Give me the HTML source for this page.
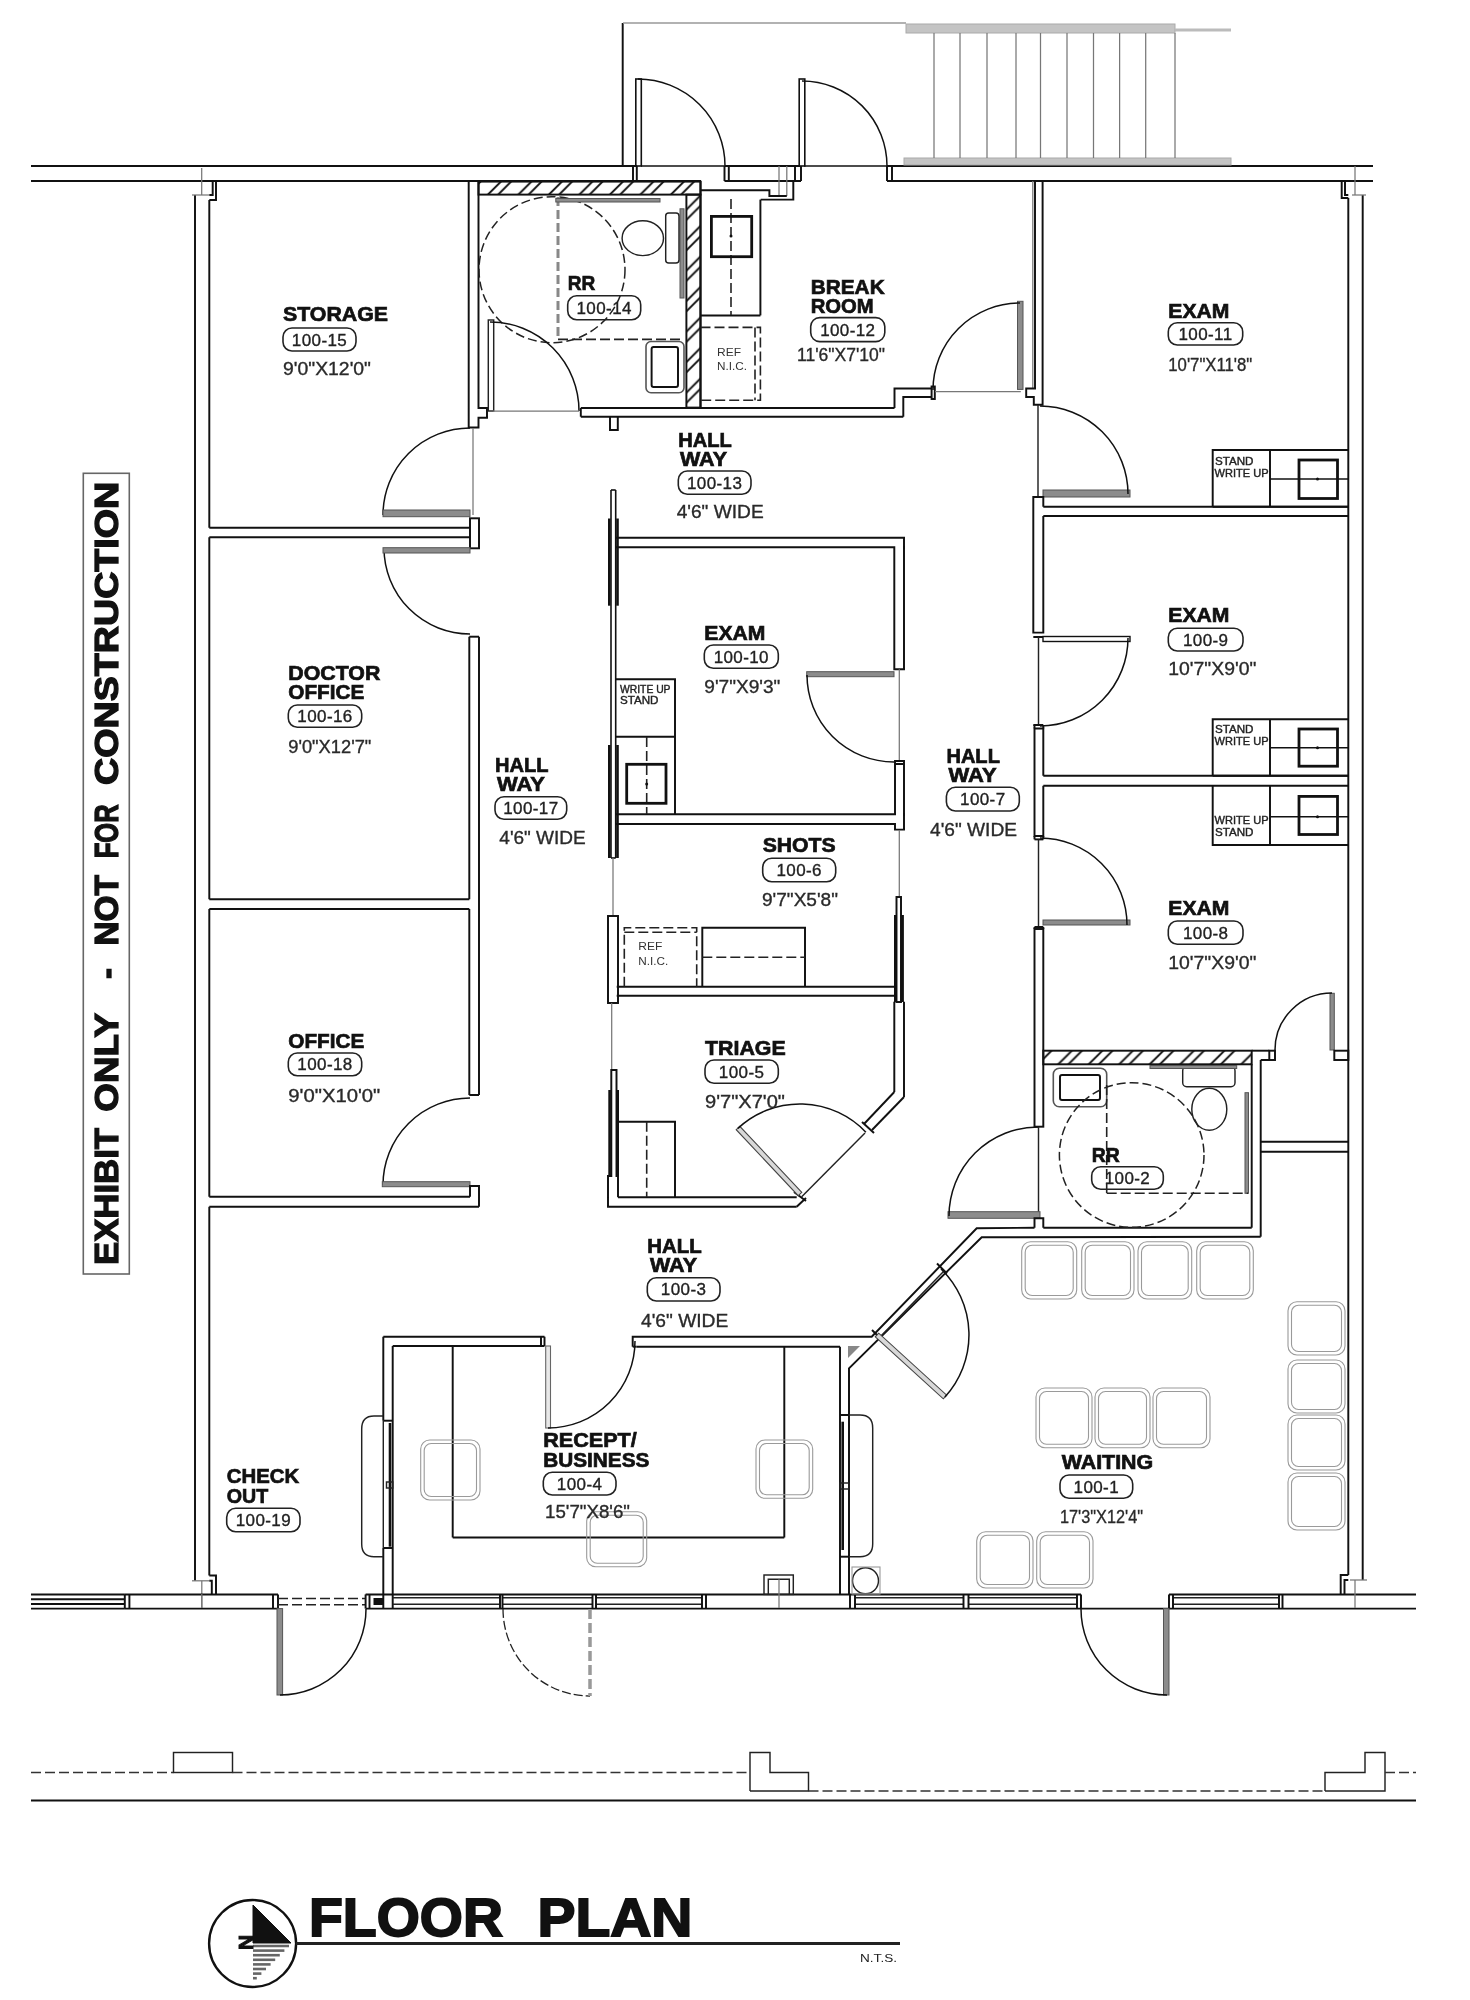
<!DOCTYPE html>
<html><head><meta charset="utf-8"><title>Floor Plan</title>
<style>
html,body{margin:0;padding:0;background:#fff}
svg{display:block;will-change:transform}
path,rect,circle,ellipse{fill:none}
.k{stroke:#111;stroke-width:1.95}
.t{stroke:#222;stroke-width:1.45}
.k2{stroke:#111;stroke-width:1.6}
.a{stroke:#111;stroke-width:1.5}
.g{stroke:#777;stroke-width:1.25}
.lg{stroke:#999;stroke-width:1.6}
.gb{stroke:#bbb;stroke-width:3}
.gf{fill:#c4c4c4;stroke:#aaa;stroke-width:1}
.gf2{fill:#888;stroke:none}
.lf{fill:#8c8c8c;stroke:#555;stroke-width:1}
.lf2{fill:#d8d8d8;stroke:#444;stroke-width:1.1}
.sk{stroke:#555;stroke-width:1.6}
.lf3{fill:#e8e8e8;stroke:#666;stroke-width:1.1}
.df{fill:#fff;stroke:#111;stroke-width:1.4}
.bf{fill:#111;stroke:#111;stroke-width:1}
.bk3{stroke:#111;stroke-width:2.6}
.th{stroke:#111;stroke-width:2.8}
.dk{stroke:#222;stroke-width:1.6;stroke-dasharray:10 4}
.ds{stroke:#333;stroke-width:1.5;stroke-dasharray:10 4}
.da{stroke:#222;stroke-width:1.3;stroke-dasharray:9 3}
.dg{stroke:#999;stroke-width:3.5;stroke-dasharray:10 4}
.dg2{stroke:#888;stroke-width:3;stroke-dasharray:9 4}
.dc{stroke:#222;stroke-width:1.5;stroke-dasharray:9 4}
.ch{stroke:#9a9a9a;stroke-width:1.1}
.pl{stroke:#222;stroke-width:1.6}
.ex{stroke:#666;stroke-width:1.6}
.hg{stroke:#666;stroke-width:2.6}
.ul{stroke:#222;stroke-width:3.2}
text{font-family:"Liberation Sans",sans-serif;fill:#111}
.lb{font-weight:bold;font-size:20.5px;stroke:#111;stroke-width:.7px}
.num{font-size:17px;fill:#222;letter-spacing:.4px;stroke:#222;stroke-width:.35px}
.dm{font-size:18.5px;fill:#2a2a2a;stroke:#2a2a2a;stroke-width:.35px}
.sm{font-size:11px;fill:#222;stroke:#222;stroke-width:.4px}
.sm2{font-size:11px;fill:#333}
.exh{font-weight:bold;font-size:33.5px;fill:#111;stroke:#111;stroke-width:1.3px}
.ttl{font-weight:bold;font-size:53px;stroke:#111;stroke-width:1.8px}
.nn{font-weight:bold;font-size:21px;stroke:#111;stroke-width:1px}
.nts{font-size:11px;fill:#222}
</style></head>
<body>
<svg width="1470" height="2000" viewBox="0 0 1470 2000">
<defs><pattern id="h" width="30.5" height="30.5" patternUnits="userSpaceOnUse"><path d="M-14.0 -5L-5 -14.0M16.5 -5L-5 16.5M47.0 -5L-5 47.0M77.5 -5L-5 77.5M-3.8 -5L-5 -3.8M26.7 -5L-5 26.7M57.2 -5L-5 57.2M87.7 -5L-5 87.7" style="stroke:#111;stroke-width:1.9"/></pattern><pattern id="h2" width="30.5" height="30.5" patternUnits="userSpaceOnUse"><path d="M-7.5 -5L-5 -7.5M23.0 -5L-5 23.0M53.5 -5L-5 53.5M84.0 -5L-5 84.0M2.7 -5L-5 2.7M33.2 -5L-5 33.2M63.7 -5L-5 63.7M94.2 -5L-5 94.2" style="stroke:#111;stroke-width:1.9"/></pattern></defs>
<rect x="0" y="0" width="1470" height="2000" style="fill:#fff"/>
<path class="k" d="M31.0 166.0L636.8 166.0"/>
<path class="k" d="M31.0 181.0L701.0 181.0"/>
<path class="k" d="M633.0 166.0L633.0 181.0"/>
<path class="k" d="M636.8 166.0L636.8 181.0"/>
<path class="k" d="M622.7 23.0L622.7 166.0"/>
<path class="lg" d="M623.0 23.0L906.0 23.0"/>
<rect class="k2" x="635.8" y="79.0" width="5.5" height="87.0"/>
<path class="k2" d="M641.0 166.0L724.5 166.0"/>
<path class="a" d="M638.0 79.0A87 87 0 0 1 725.0 166.0"/>
<path class="k" d="M724.5 166.0L800.0 166.0"/>
<path class="k" d="M724.5 166.0L724.5 181.0"/>
<path class="k" d="M728.8 166.0L728.8 181.0"/>
<path class="k" d="M724.5 181.0L801.0 181.0"/>
<rect class="k2" x="799.2" y="79.0" width="5.6" height="87.0"/>
<path class="k2" d="M804.0 166.0L887.0 166.0"/>
<path class="a" d="M802.0 81.0A85 85 0 0 1 887.0 166.0"/>
<path class="k" d="M801.0 166.0L801.0 181.0"/>
<path class="k" d="M795.0 166.0L795.0 181.0"/>
<path class="k" d="M887.0 166.0L1373.0 166.0"/>
<path class="k" d="M887.0 181.0L1373.0 181.0"/>
<path class="k" d="M887.0 166.0L887.0 181.0"/>
<path class="k" d="M892.0 166.0L892.0 181.0"/>
<path class="g" d="M779.0 166.0L779.0 196.0"/>
<path class="g" d="M786.8 166.0L786.8 196.0"/>
<path class="k" d="M793.3 181.0L793.3 199.6L760.7 199.6"/>
<path class="k" d="M701.0 190.3L769.4 190.3L769.4 196.0L786.8 196.0"/>
<rect class="gf" x="906.0" y="24.0" width="269.0" height="9.0"/>
<path class="gb" d="M1175.0 30.0L1231.0 30.0"/>
<rect class="gf" x="904.0" y="158.0" width="327.0" height="7.0"/>
<path class="g" d="M934.0 33.0L934.0 158.0"/>
<path class="g" d="M960.0 33.0L960.0 158.0"/>
<path class="g" d="M987.0 33.0L987.0 158.0"/>
<path class="g" d="M1016.0 33.0L1016.0 158.0"/>
<path class="g" d="M1040.5 33.0L1040.5 158.0"/>
<path class="g" d="M1067.0 33.0L1067.0 158.0"/>
<path class="g" d="M1093.5 33.0L1093.5 158.0"/>
<path class="g" d="M1119.6 33.0L1119.6 158.0"/>
<path class="g" d="M1145.7 33.0L1145.7 158.0"/>
<path class="g" d="M1175.0 33.0L1175.0 158.0"/>
<path class="k" d="M195.0 195.0L195.0 1580.8"/>
<path class="k" d="M209.3 200.0L209.3 527.7"/>
<path class="k" d="M209.3 537.3L209.3 899.3"/>
<path class="k" d="M209.3 909.0L209.3 1196.7"/>
<path class="k" d="M209.3 1206.7L209.3 1575.4"/>
<path class="k" d="M216.0 181.0L216.0 200.0L209.3 200.0"/>
<path class="k" d="M212.7 181.0L212.7 195.0L209.3 195.0"/>
<path class="g" d="M201.7 168.0L201.7 195.0"/>
<path class="g" d="M192.0 195.0L209.0 195.0"/>
<path class="k" d="M209.3 1575.4L216.0 1575.4L216.0 1594.4"/>
<path class="k" d="M209.3 1580.8L211.8 1580.8L211.8 1594.4"/>
<path class="g" d="M201.8 1580.8L201.8 1608.0"/>
<path class="g" d="M192.0 1580.8L209.0 1580.8"/>
<path class="k" d="M478.5 181.0L478.5 408.0L487.0 408.0L487.0 417.7L478.5 417.7L478.5 427.5L468.7 427.5L468.7 181.0"/>
<path class="a" d="M383.0 515.0A87 87 0 0 1 470.0 428.0"/>
<rect class="lf" x="383.0" y="510.0" width="87.0" height="6.7"/>
<path class="g" d="M473.0 428.0L473.0 515.0"/>
<path class="k" d="M209.3 527.7L470.0 527.7"/>
<path class="k" d="M209.3 537.3L470.0 537.3"/>
<rect class="k" x="470.0" y="518.3" width="9.0" height="30.0"/>
<path class="a" d="M384.0 548.0A86 86 0 0 0 470.0 634.0"/>
<rect class="lf" x="383.0" y="547.7" width="87.0" height="5.3"/>
<path class="k" d="M469.3 636.7L469.3 899.3"/>
<path class="k" d="M469.3 909.0L469.3 1095.0"/>
<path class="k" d="M479.0 636.7L479.0 1095.0"/>
<path class="k" d="M469.3 636.7L479.0 636.7"/>
<path class="k" d="M469.3 1095.0L479.0 1095.0"/>
<path class="k" d="M209.3 899.3L469.3 899.3"/>
<path class="k" d="M209.3 909.0L469.3 909.0"/>
<path class="a" d="M383.0 1185.0A87 87 0 0 1 470.0 1098.0"/>
<rect class="lf" x="382.3" y="1181.7" width="87.7" height="5.0"/>
<path class="k" d="M209.3 1196.7L470.0 1196.7"/>
<path class="k" d="M209.3 1206.7L479.0 1206.7"/>
<path class="k" d="M470.0 1196.7L470.0 1186.0L479.0 1186.0L479.0 1206.7"/>
<path class="k" d="M31.0 1594.4L124.8 1594.4"/>
<path class="k" d="M31.0 1599.3L124.8 1599.3"/>
<path class="k" d="M31.0 1604.0L124.8 1604.0"/>
<path class="k" d="M31.0 1608.6L124.8 1608.6"/>
<path class="k" d="M124.8 1594.4L124.8 1608.6"/>
<path class="k" d="M129.4 1594.4L129.4 1608.6"/>
<path class="k" d="M124.8 1594.4L278.0 1594.4"/>
<path class="k" d="M124.8 1608.6L278.0 1608.6"/>
<path class="k" d="M273.0 1594.4L273.0 1608.6"/>
<path class="k" d="M278.0 1594.4L278.0 1608.6"/>
<path class="dk" d="M278.0 1598.5L365.6 1598.5"/>
<path class="dk" d="M278.0 1604.8L365.6 1604.8"/>
<rect class="lf" x="277.0" y="1608.6" width="5.6" height="86.4"/>
<path class="a" d="M280.0 1695.0A86 86 0 0 0 366.0 1609.0"/>
<path class="k" d="M365.6 1594.4L365.6 1608.6"/>
<path class="k" d="M369.5 1594.4L369.5 1608.6"/>
<path class="k" d="M383.3 1594.4L383.3 1608.6"/>
<path class="k" d="M392.7 1594.4L392.7 1608.6"/>
<rect class="bf" x="374.0" y="1598.5" width="9.0" height="6.0"/>
<path class="k" d="M365.6 1594.4L1081.0 1594.4"/>
<path class="k" d="M365.6 1608.6L1416.0 1608.6"/>
<path class="k" d="M1169.0 1594.4L1416.0 1594.4"/>
<path class="t" d="M392.7 1597.7L500.0 1597.7"/>
<path class="t" d="M392.7 1604.3L500.0 1604.3"/>
<path class="t" d="M502.5 1597.7L592.5 1597.7"/>
<path class="t" d="M502.5 1604.3L592.5 1604.3"/>
<path class="t" d="M596.0 1597.7L702.0 1597.7"/>
<path class="t" d="M596.0 1604.3L702.0 1604.3"/>
<path class="t" d="M855.0 1597.7L963.5 1597.7"/>
<path class="t" d="M855.0 1604.3L963.5 1604.3"/>
<path class="t" d="M968.5 1597.7L1077.0 1597.7"/>
<path class="t" d="M968.5 1604.3L1077.0 1604.3"/>
<path class="t" d="M1173.0 1597.7L1279.0 1597.7"/>
<path class="t" d="M1173.0 1604.3L1279.0 1604.3"/>
<path class="k" d="M500.0 1594.4L500.0 1608.6"/>
<path class="k" d="M502.5 1594.4L502.5 1608.6"/>
<path class="k" d="M592.5 1594.4L592.5 1608.6"/>
<path class="k" d="M596.0 1594.4L596.0 1608.6"/>
<path class="k" d="M702.0 1594.4L702.0 1608.6"/>
<path class="k" d="M706.0 1594.4L706.0 1608.6"/>
<path class="k" d="M850.0 1594.4L850.0 1608.6"/>
<path class="k" d="M855.0 1594.4L855.0 1608.6"/>
<path class="k" d="M963.5 1594.4L963.5 1608.6"/>
<path class="k" d="M968.5 1594.4L968.5 1608.6"/>
<path class="k" d="M1077.0 1594.4L1077.0 1608.6"/>
<path class="k" d="M1081.0 1594.4L1081.0 1608.6"/>
<path class="k" d="M1169.0 1594.4L1169.0 1608.6"/>
<path class="k" d="M1173.0 1594.4L1173.0 1608.6"/>
<path class="k" d="M1279.0 1594.4L1279.0 1608.6"/>
<path class="k" d="M1282.5 1594.4L1282.5 1608.6"/>
<path class="da" d="M503.0 1609.0A87 87 0 0 0 590.0 1696.0"/>
<path class="dg" d="M590.0 1609.0L590.0 1696.0"/>
<rect class="lf" x="1163.5" y="1608.6" width="5.5" height="86.4"/>
<path class="a" d="M1081.0 1609.0A86 86 0 0 0 1167.0 1695.0"/>
<path class="g" d="M201.8 1594.0L201.8 1608.0"/>
<path class="k" d="M1348.3 198.0L1348.3 1575.0"/>
<path class="k" d="M1362.7 195.0L1362.7 1580.0"/>
<path class="k" d="M1341.7 181.0L1341.7 198.0L1348.3 198.0"/>
<path class="k" d="M1345.0 181.0L1345.0 195.0L1348.3 195.0"/>
<path class="g" d="M1355.0 166.0L1355.0 195.0"/>
<path class="g" d="M1352.0 195.0L1366.0 195.0"/>
<path class="k" d="M1348.3 1575.0L1340.7 1575.0L1340.7 1594.4"/>
<path class="k" d="M1348.3 1580.0L1344.5 1580.0L1344.5 1594.4"/>
<path class="g" d="M1355.0 1580.0L1355.0 1608.0"/>
<path class="g" d="M1350.0 1580.0L1367.0 1580.0"/>
<path class="ds" d="M31.0 1772.5L173.5 1772.5"/>
<rect class="t" x="173.5" y="1752.5" width="59.0" height="20.0"/>
<path class="ds" d="M232.5 1772.5L750.0 1772.5"/>
<path class="t" d="M750.0 1791.0L750.0 1752.5L770.0 1752.5L770.0 1772.5L808.5 1772.5L808.5 1791.0L750.0 1791.0"/>
<path class="ds" d="M808.5 1791.0L1325.0 1791.0"/>
<path class="t" d="M1325.0 1791.0L1325.0 1772.5L1365.0 1772.5L1365.0 1752.5L1385.0 1752.5L1385.0 1791.0L1325.0 1791.0"/>
<path class="ds" d="M1385.0 1772.5L1416.0 1772.5"/>
<path class="k" d="M31.0 1800.5L1416.0 1800.5"/>
<rect x="478.5" y="181.6" width="222" height="13" style="fill:url(#h);stroke:#111;stroke-width:1.95"/>
<rect x="686.4" y="194.6" width="14.1" height="213" style="fill:url(#h);stroke:#111;stroke-width:1.95"/>
<circle class="dc" cx="552" cy="269.7" r="73"/>
<path class="dg2" d="M558.0 197.0L558.0 340.0"/>
<path class="dk" d="M558.0 339.4L684.0 339.4"/>
<rect class="lf" x="555.8" y="198.5" width="104.2" height="3.5"/>
<rect class="lf" x="680.0" y="208.8" width="4.0" height="89.2"/>
<rect class="t" x="665.7" y="213.0" width="13.3" height="50.0" rx="3"/>
<ellipse class="t" cx="642.8" cy="238.2" rx="20.7" ry="17.4"/>
<rect class="sk" x="646.0" y="341.5" width="38.0" height="51.2" rx="5"/>
<rect class="k" x="651.6" y="347.0" width="26.4" height="40.0" rx="2"/>
<rect class="t" x="488.3" y="320.0" width="5.4" height="91.0"/>
<path class="a" d="M490.0 322.0A89 89 0 0 1 579.0 411.0"/>
<path class="g" d="M493.0 411.0L579.0 411.0"/>
<path class="k" d="M580.8 408.0L894.5 408.0"/>
<path class="k" d="M580.8 416.7L903.3 416.7"/>
<path class="k" d="M580.8 408.0L580.8 416.7"/>
<path class="k" d="M610.0 416.7L610.0 430.0L617.8 430.0L617.8 416.7"/>
<path class="k" d="M700.5 181.0L700.5 408.0"/>
<path class="k" d="M760.4 199.6L760.4 315.4"/>
<path class="k" d="M700.5 315.4L760.4 315.4"/>
<path class="dk" d="M731.0 199.0L731.0 315.0"/>
<rect class="th" x="711.4" y="216.4" width="40.3" height="40.3"/>
<circle cx="731" cy="236" r="1.5" style="fill:#111"/>
<path class="dk" d="M700.5 327.4L760.4 327.4L760.4 400.3L700.5 400.3"/>
<path class="dk" d="M755.0 327.4L755.0 400.3"/>
<text class="sm2" x="717.0" y="355.7" textLength="24.0" lengthAdjust="spacingAndGlyphs">REF</text>
<text class="sm2" x="717.0" y="369.9" textLength="30.0" lengthAdjust="spacingAndGlyphs">N.I.C.</text>
<path class="k" d="M894.5 408.0L894.5 388.4L931.6 388.4"/>
<path class="k" d="M903.3 416.7L903.3 397.0L931.6 397.0"/>
<rect class="k" x="931.6" y="386.5" width="3.2" height="12.5"/>
<path class="g" d="M935.0 391.6L1020.8 391.6"/>
<rect class="lf" x="1017.5" y="301.3" width="5.5" height="88.1"/>
<path class="a" d="M1020.0 303.0A87 87 0 0 0 933.0 390.0"/>
<path class="g" d="M1032.8 181.0L1032.8 388.0"/>
<path class="k" d="M1035.0 181.0L1035.0 388.4L1026.2 388.4L1026.2 397.0L1033.8 397.0L1033.8 404.7L1042.6 404.7L1042.6 181.0"/>
<path class="t" d="M1038.0 405.0L1038.0 497.0"/>
<rect class="lf" x="1043.0" y="490.0" width="87.0" height="7.0"/>
<path class="a" d="M1128.0 494.0A88 88 0 0 0 1040.0 406.0"/>
<path class="k" d="M1043.3 506.7L1043.3 497.0L1033.3 497.0L1033.3 632.6L1043.3 632.6L1043.3 516.0"/>
<path class="k" d="M1033.3 637.0L1043.3 637.0"/>
<path class="k" d="M1043.3 506.7L1348.3 506.7"/>
<path class="k" d="M1043.3 516.0L1348.3 516.0"/>
<path class="k" d="M1212.7 506.7L1212.7 450.0L1348.3 450.0"/>
<path class="k" d="M1212.7 506.7L1348.3 506.7"/>
<path class="k" d="M1270.0 450.0L1270.0 506.7"/>
<path class="k2" d="M1270.0 479.0L1348.3 479.0"/>
<rect class="th" x="1299.0" y="460.0" width="38.5" height="38.5"/>
<circle cx="1317.5" cy="479" r="1.5" style="fill:#111"/>
<text class="sm" x="1215.0" y="465.0" textLength="38.5" lengthAdjust="spacingAndGlyphs">STAND</text>
<text class="sm" x="1214.5" y="477.0" textLength="54.0" lengthAdjust="spacingAndGlyphs">WRITE UP</text>
<path class="t" d="M1038.5 637.0L1038.5 725.0"/>
<rect class="df" x="1043.0" y="636.5" width="87.0" height="5.0"/>
<path class="a" d="M1128.0 638.0A88 88 0 0 1 1040.0 726.0"/>
<path class="k" d="M1033.3 725.0L1043.3 725.0"/>
<path class="k" d="M1043.3 775.7L1043.3 728.4L1034.5 728.4L1034.5 836.0L1043.3 836.0L1043.3 785.7"/>
<path class="k" d="M1034.5 725.0L1034.5 728.4"/>
<path class="k" d="M1043.3 725.0L1043.3 728.4"/>
<path class="k" d="M1034.5 839.4L1043.3 839.4"/>
<path class="k" d="M1034.5 836.0L1034.5 839.4"/>
<path class="k" d="M1043.3 836.0L1043.3 839.4"/>
<path class="k" d="M1043.3 775.7L1348.3 775.7"/>
<path class="k" d="M1043.3 785.7L1348.3 785.7"/>
<path class="k" d="M1212.7 775.7L1212.7 719.3L1348.3 719.3"/>
<path class="k" d="M1212.7 775.7L1348.3 775.7"/>
<path class="k" d="M1270.0 719.3L1270.0 775.7"/>
<path class="k2" d="M1270.0 747.7L1348.3 747.7"/>
<rect class="th" x="1299.0" y="729.0" width="38.5" height="37.2"/>
<circle cx="1317.5" cy="747.7" r="1.5" style="fill:#111"/>
<text class="sm" x="1215.0" y="732.7" textLength="38.5" lengthAdjust="spacingAndGlyphs">STAND</text>
<text class="sm" x="1214.5" y="745.0" textLength="54.0" lengthAdjust="spacingAndGlyphs">WRITE UP</text>
<path class="k" d="M1212.7 785.7L1212.7 845.0L1348.3 845.0"/>
<path class="k" d="M1270.0 785.7L1270.0 845.0"/>
<path class="k2" d="M1270.0 816.7L1348.3 816.7"/>
<rect class="th" x="1299.0" y="796.4" width="38.5" height="38.1"/>
<circle cx="1317.5" cy="816.7" r="1.5" style="fill:#111"/>
<text class="sm" x="1214.5" y="824.3" textLength="54.0" lengthAdjust="spacingAndGlyphs">WRITE UP</text>
<text class="sm" x="1215.0" y="836.2" textLength="38.5" lengthAdjust="spacingAndGlyphs">STAND</text>
<path class="t" d="M1038.5 839.4L1038.5 927.0"/>
<rect class="lf" x="1043.0" y="920.0" width="87.0" height="5.0"/>
<path class="a" d="M1127.0 925.0A87 87 0 0 0 1040.0 838.0"/>
<path class="k" d="M1034.5 927.0L1043.3 927.0"/>
<rect class="k" x="1034.5" y="929.0" width="8.8" height="197.7"/>
<path class="k" d="M1034.5 927.0L1034.5 929.0"/>
<path class="k" d="M1043.3 927.0L1043.3 929.0"/>
<path class="t" d="M1038.5 1127.0L1038.5 1218.0"/>
<rect class="lf" x="948.0" y="1211.7" width="92.0" height="6.6"/>
<path class="a" d="M949.0 1216.0A89 89 0 0 1 1038.0 1127.0"/>
<rect class="lf" x="1330.0" y="993.3" width="4.3" height="56.7"/>
<path class="a" d="M1332.0 993.0A57 57 0 0 0 1275.0 1050.0"/>
<rect class="k" x="1334.3" y="1050.7" width="14.0" height="9.3"/>
<rect class="k" x="1269.3" y="1050.7" width="5.7" height="9.3"/>
<rect x="1043.3" y="1050.7" width="208.4" height="13.6" style="fill:url(#h2);stroke:#111;stroke-width:1.95"/>
<path class="k" d="M1251.7 1050.7L1269.3 1050.7"/>
<path class="k" d="M1251.7 1064.3L1251.7 1227.7"/>
<path class="k" d="M1260.7 1060.0L1260.7 1236.7"/>
<path class="k" d="M1260.7 1060.0L1269.3 1060.0"/>
<path class="k" d="M1260.7 1141.7L1348.3 1141.7"/>
<path class="k" d="M1260.7 1151.7L1348.3 1151.7"/>
<path class="k" d="M1043.3 1227.7L1251.7 1227.7"/>
<path class="k" d="M1043.3 1227.7L1043.3 1218.3L1034.5 1218.3L1034.5 1227.7"/>
<rect class="sk" x="1053.3" y="1068.3" width="53.4" height="38.4" rx="6"/>
<rect class="k" x="1060.0" y="1075.0" width="40.0" height="25.0" rx="2"/>
<rect class="t" x="1182.7" y="1066.7" width="52.3" height="20.0" rx="4"/>
<ellipse class="t" cx="1209.3" cy="1109.3" rx="17.5" ry="21"/>
<rect class="lf" x="1150.0" y="1065.5" width="86.7" height="3.0"/>
<rect class="lf" x="1245.0" y="1092.7" width="3.5" height="100.6"/>
<circle class="dc" cx="1131.7" cy="1155" r="72.3"/>
<path class="dk" d="M1106.7 1085.0L1106.7 1193.3"/>
<path class="dk" d="M1106.7 1193.3L1248.0 1193.3"/>
<path class="k" d="M632.7 1346.7L632.7 1336.7L871.7 1336.7L976.7 1228.3L1034.5 1227.7"/>
<path class="k" d="M636.7 1346.7L840.0 1346.7"/>
<path class="k" d="M632.7 1346.7L636.7 1346.7"/>
<path class="k" d="M849.0 1594.4L849.0 1368.3L981.7 1237.3L1260.7 1236.7"/>
<path class="k" d="M840.0 1346.7L840.0 1594.4"/>
<path class="k" d="M872.0 1330.0L882.0 1340.0"/>
<path class="k" d="M937.0 1263.5L947.0 1273.5"/>
<path class="t" d="M880.0 1337.0L944.0 1271.0"/>
<path class="lf2" d="M875.3 1336.8L943.3 1398.8L946.7 1395.2L878.7 1333.2Z"/>
<path class="a" d="M944.9 1397.0A92 92 0 0 0 941.0 1268.9"/>
<path class="gf2" d="M848.0 1346.0L860.0 1346.0L848.0 1358.0Z"/>
<path class="k" d="M383.3 1336.7L544.5 1336.7"/>
<path class="k" d="M392.7 1346.0L544.5 1346.0"/>
<path class="k" d="M544.5 1336.7L544.5 1346.0"/>
<path class="k" d="M541.0 1336.7L541.0 1346.0"/>
<path class="k" d="M383.3 1336.7L383.3 1420.7"/>
<path class="k" d="M392.7 1346.0L392.7 1594.4"/>
<path class="k" d="M383.3 1548.0L383.3 1594.4"/>
<path class="k" d="M383.3 1420.7L392.7 1420.7"/>
<path class="k" d="M383.3 1548.0L392.7 1548.0"/>
<path class="t" d="M383.3 1420.7L383.3 1548.0"/>
<path class="bk3" d="M390.0 1423.0L390.0 1546.7"/>
<rect class="t" x="386.5" y="1482.0" width="6.2" height="6.0"/>
<path class="t" d="M383.3 1416H374Q361.7 1416 361.7 1429V1544Q361.7 1556.7 374 1556.7H383.3"/>
<rect class="lf3" x="545.7" y="1346.0" width="4.8" height="82.0"/>
<path class="a" d="M548.0 1428.0A87 87 0 0 0 635.0 1341.0"/>
<path class="k" d="M452.7 1346.0L452.7 1537.5"/>
<path class="k" d="M452.7 1537.5L784.3 1537.5"/>
<path class="k" d="M784.3 1346.7L784.3 1537.5"/>
<path class="bk3" d="M842.7 1421.7L842.7 1550.0"/>
<rect class="t" x="840.0" y="1483.0" width="9.0" height="6.0"/>
<path class="k" d="M840.0 1415.0L849.0 1415.0"/>
<path class="k" d="M840.0 1556.7L849.0 1556.7"/>
<path class="t" d="M849 1415H860Q872.7 1415 872.7 1428V1544Q872.7 1556.7 860 1556.7H849"/>
<rect class="ch" x="420.7" y="1440.0" width="59.3" height="60.0" rx="9"/>
<rect class="ch" x="424.2" y="1443.5" width="52.3" height="53.0" rx="7"/>
<rect class="ch" x="756.0" y="1440.0" width="56.7" height="58.3" rx="9"/>
<rect class="ch" x="759.5" y="1443.5" width="49.7" height="51.3" rx="7"/>
<rect class="ch" x="586.7" y="1511.7" width="60.0" height="55.0" rx="9"/>
<rect class="ch" x="590.2" y="1515.2" width="53.0" height="48.0" rx="7"/>
<rect class="t" x="764.0" y="1575.0" width="29.3" height="19.4"/>
<path class="t" d="M768.3 1594.4L768.3 1579.3L789.3 1579.3L789.3 1594.4"/>
<path class="g" d="M779.0 1579.3L779.0 1608.0"/>
<circle class="t" cx="865.5" cy="1580.7" r="13"/>
<rect class="ch" x="852.0" y="1567.0" width="28.0" height="27.0"/>
<path class="k2" d="M611.0 490.0L611.0 858.0"/>
<path class="k2" d="M615.7 490.0L615.7 858.0"/>
<path class="k2" d="M611.0 490.0L615.7 490.0"/>
<path class="k2" d="M611.0 858.0L615.7 858.0"/>
<path class="bk3" d="M609.3 518.5L609.3 605.7"/>
<path class="bk3" d="M617.5 518.5L617.5 605.7"/>
<path class="bk3" d="M609.3 745.0L609.3 858.0"/>
<path class="bk3" d="M617.5 745.0L617.5 858.0"/>
<path class="g" d="M613.0 858.0L613.0 915.0"/>
<rect class="k" x="608.0" y="916.0" width="10.0" height="87.0"/>
<path class="g" d="M611.7 1003.0L611.7 1070.0"/>
<path class="k" d="M618.0 1197.3L618.0 1176.0L616.5 1176.0L616.5 1070.0L611.3 1070.0L611.3 1176.0L608.0 1176.0L608.0 1206.7L796.7 1206.7"/>
<path class="bk3" d="M609.6 1090.0L609.6 1176.3"/>
<path class="bk3" d="M617.7 1090.0L617.7 1176.3"/>
<path class="k" d="M618.0 1197.3L796.7 1197.3"/>
<path class="k" d="M616.0 537.7L904.0 537.7L904.0 669.3L894.3 669.3L894.3 547.3L616.0 547.3"/>
<path class="g" d="M899.3 669.3L899.3 761.0"/>
<path class="k" d="M616.0 814.3L895.0 814.3L895.0 761.0L904.0 761.0L904.0 829.6L895.0 829.6L895.0 824.0L616.0 824.0"/>
<path class="k" d="M895.0 764.0L904.0 764.0"/>
<rect class="lf" x="806.7" y="671.7" width="87.3" height="5.0"/>
<path class="a" d="M807.0 675.0A87 87 0 0 0 894.0 762.0"/>
<path class="k" d="M616.0 679.3L675.0 679.3L675.0 814.3"/>
<path class="k" d="M616.0 736.7L675.0 736.7"/>
<path class="dk" d="M646.7 737.0L646.7 814.0"/>
<rect class="th" x="626.7" y="764.3" width="39.3" height="39.0"/>
<circle cx="646.7" cy="784" r="1.5" style="fill:#111"/>
<text class="sm" x="620.0" y="692.7" textLength="50.5" lengthAdjust="spacingAndGlyphs">WRITE UP</text>
<text class="sm" x="620.0" y="704.3" textLength="38.5" lengthAdjust="spacingAndGlyphs">STAND</text>
<path class="g" d="M899.3 830.0L899.3 897.0"/>
<rect class="k" x="896.5" y="897.0" width="4.5" height="105.0"/>
<path class="bk3" d="M895.3 915.0L895.3 1002.0"/>
<path class="bk3" d="M902.6 915.0L902.6 1002.0"/>
<path class="k" d="M616.7 986.7L896.7 986.7"/>
<path class="k" d="M616.7 995.7L896.7 995.7"/>
<path class="dk" d="M624.3 986.7L624.3 927.7L696.7 927.7L696.7 986.7"/>
<path class="dk" d="M624.3 932.3L696.7 932.3"/>
<path class="k" d="M702.3 986.7L702.3 927.7L805.0 927.7L805.0 986.7"/>
<path class="dk" d="M702.3 957.3L805.0 957.3"/>
<text class="sm2" x="638.3" y="950.0" textLength="24.0" lengthAdjust="spacingAndGlyphs">REF</text>
<text class="sm2" x="638.3" y="965.0" textLength="30.0" lengthAdjust="spacingAndGlyphs">N.I.C.</text>
<path class="k" d="M894.3 1001.7L894.3 1092.0"/>
<path class="k" d="M904.0 1001.7L904.0 1097.0"/>
<path class="k" d="M904.0 1097.0L872.0 1130.0"/>
<path class="k" d="M894.3 1092.0L864.0 1124.0"/>
<path class="k" d="M862.0 1122.0L874.0 1133.0"/>
<path class="t" d="M865.0 1133.0L801.7 1196.7"/>
<path class="k" d="M796.7 1206.7L806.0 1198.0"/>
<path class="k" d="M794.0 1192.0L806.0 1201.0"/>
<path class="lf2" d="M801.8 1192.3L739.8 1126.3L736.2 1129.7L798.2 1195.7Z"/>
<path class="a" d="M737.9 1128.4A91 91 0 0 1 865.9 1132.2"/>
<path class="k" d="M617.3 1121.7L675.0 1121.7L675.0 1197.3"/>
<path class="dk" d="M646.7 1121.7L646.7 1197.0"/>
<rect class="ch" x="1021.7" y="1241.7" width="55.0" height="57.3" rx="9"/>
<rect class="ch" x="1025.2" y="1245.2" width="48.0" height="50.3" rx="7"/>
<rect class="ch" x="1081.7" y="1241.7" width="52.3" height="57.3" rx="9"/>
<rect class="ch" x="1085.2" y="1245.2" width="45.3" height="50.3" rx="7"/>
<rect class="ch" x="1138.0" y="1241.7" width="53.7" height="57.3" rx="9"/>
<rect class="ch" x="1141.5" y="1245.2" width="46.7" height="50.3" rx="7"/>
<rect class="ch" x="1196.7" y="1241.7" width="56.6" height="57.3" rx="9"/>
<rect class="ch" x="1200.2" y="1245.2" width="49.6" height="50.3" rx="7"/>
<rect class="ch" x="1036.0" y="1388.0" width="56.0" height="59.7" rx="9"/>
<rect class="ch" x="1039.5" y="1391.5" width="49.0" height="52.7" rx="7"/>
<rect class="ch" x="1095.0" y="1388.0" width="55.0" height="59.7" rx="9"/>
<rect class="ch" x="1098.5" y="1391.5" width="48.0" height="52.7" rx="7"/>
<rect class="ch" x="1153.0" y="1388.0" width="57.0" height="59.7" rx="9"/>
<rect class="ch" x="1156.5" y="1391.5" width="50.0" height="52.7" rx="7"/>
<rect class="ch" x="976.7" y="1531.7" width="56.3" height="56.3" rx="9"/>
<rect class="ch" x="980.2" y="1535.2" width="49.3" height="49.3" rx="7"/>
<rect class="ch" x="1036.7" y="1531.7" width="56.3" height="56.3" rx="9"/>
<rect class="ch" x="1040.2" y="1535.2" width="49.3" height="49.3" rx="7"/>
<rect class="ch" x="1288.0" y="1301.7" width="57.0" height="53.3" rx="9"/>
<rect class="ch" x="1291.5" y="1305.2" width="50.0" height="46.3" rx="7"/>
<rect class="ch" x="1288.0" y="1360.0" width="57.0" height="53.0" rx="9"/>
<rect class="ch" x="1291.5" y="1363.5" width="50.0" height="46.0" rx="7"/>
<rect class="ch" x="1288.0" y="1415.0" width="57.0" height="55.0" rx="9"/>
<rect class="ch" x="1291.5" y="1418.5" width="50.0" height="48.0" rx="7"/>
<rect class="ch" x="1288.0" y="1473.0" width="57.0" height="57.0" rx="9"/>
<rect class="ch" x="1291.5" y="1476.5" width="50.0" height="50.0" rx="7"/>
<text class="lb" x="283.0" y="321.0" textLength="105.0" lengthAdjust="spacingAndGlyphs">STORAGE</text>
<rect class="pl" x="283.0" y="328.0" width="73.0" height="23.0" rx="9"/>
<text class="num" x="319.5" y="345.5" text-anchor="middle">100-15</text>
<text class="dm" x="283.0" y="375.0" textLength="88.0" lengthAdjust="spacingAndGlyphs">9'0&quot;X12'0&quot;</text>
<text class="lb" x="567.7" y="290.4" textLength="27.5" lengthAdjust="spacingAndGlyphs">RR</text>
<rect class="pl" x="567.7" y="295.8" width="73.0" height="24.0" rx="9"/>
<text class="num" x="604.2" y="313.8" text-anchor="middle">100-14</text>
<text class="lb" x="810.7" y="293.7" textLength="74.0" lengthAdjust="spacingAndGlyphs">BREAK</text>
<text class="lb" x="810.7" y="313.3" textLength="63.0" lengthAdjust="spacingAndGlyphs">ROOM</text>
<rect class="pl" x="810.7" y="317.6" width="74.1" height="24.0" rx="9"/>
<text class="num" x="847.8" y="335.6" text-anchor="middle">100-12</text>
<text class="dm" x="797.0" y="361.1" textLength="88.0" lengthAdjust="spacingAndGlyphs">11'6&quot;X7'10&quot;</text>
<text class="lb" x="1168.3" y="318.3" textLength="61.0" lengthAdjust="spacingAndGlyphs">EXAM</text>
<rect class="pl" x="1168.3" y="322.7" width="74.4" height="22.3" rx="9"/>
<text class="num" x="1205.5" y="339.9" text-anchor="middle">100-11</text>
<text class="dm" x="1168.3" y="370.5" textLength="84.0" lengthAdjust="spacingAndGlyphs">10'7&quot;X11'8&quot;</text>
<text class="lb" x="678.3" y="446.7" textLength="53.5" lengthAdjust="spacingAndGlyphs">HALL</text>
<rect class="pl" x="678.3" y="471.0" width="72.7" height="23.3" rx="9"/>
<text class="num" x="714.6" y="488.6" text-anchor="middle">100-13</text>
<text class="dm" x="676.7" y="518.3" textLength="87.0" lengthAdjust="spacingAndGlyphs">4'6&quot; WIDE</text>
<text class="lb" x="680.0" y="465.7" textLength="47.0" lengthAdjust="spacingAndGlyphs">WAY</text>
<text class="lb" x="704.3" y="640.0" textLength="61.0" lengthAdjust="spacingAndGlyphs">EXAM</text>
<rect class="pl" x="704.3" y="645.0" width="74.0" height="23.3" rx="9"/>
<text class="num" x="741.3" y="662.6" text-anchor="middle">100-10</text>
<text class="dm" x="704.3" y="693.3" textLength="76.0" lengthAdjust="spacingAndGlyphs">9'7&quot;X9'3&quot;</text>
<text class="lb" x="1168.3" y="621.7" textLength="61.0" lengthAdjust="spacingAndGlyphs">EXAM</text>
<rect class="pl" x="1168.3" y="628.3" width="74.7" height="22.7" rx="9"/>
<text class="num" x="1205.7" y="645.6" text-anchor="middle">100-9</text>
<text class="dm" x="1168.3" y="675.0" textLength="88.0" lengthAdjust="spacingAndGlyphs">10'7&quot;X9'0&quot;</text>
<text class="lb" x="288.3" y="680.0" textLength="92.0" lengthAdjust="spacingAndGlyphs">DOCTOR</text>
<text class="lb" x="288.3" y="699.3" textLength="76.0" lengthAdjust="spacingAndGlyphs">OFFICE</text>
<rect class="pl" x="288.3" y="705.0" width="73.4" height="22.3" rx="9"/>
<text class="num" x="325.0" y="722.1" text-anchor="middle">100-16</text>
<text class="dm" x="288.3" y="752.7" textLength="83.0" lengthAdjust="spacingAndGlyphs">9'0&quot;X12'7&quot;</text>
<text class="lb" x="495.0" y="772.3" textLength="53.5" lengthAdjust="spacingAndGlyphs">HALL</text>
<rect class="pl" x="495.0" y="796.7" width="71.7" height="22.6" rx="9"/>
<text class="num" x="530.9" y="814.0" text-anchor="middle">100-17</text>
<text class="dm" x="499.3" y="844.3" textLength="86.5" lengthAdjust="spacingAndGlyphs">4'6&quot; WIDE</text>
<text class="lb" x="497.0" y="791.0" textLength="48.0" lengthAdjust="spacingAndGlyphs">WAY</text>
<text class="lb" x="946.4" y="763.3" textLength="53.5" lengthAdjust="spacingAndGlyphs">HALL</text>
<rect class="pl" x="946.4" y="787.2" width="72.9" height="23.8" rx="9"/>
<text class="num" x="982.8" y="805.1" text-anchor="middle">100-7</text>
<text class="dm" x="930.0" y="836.2" textLength="87.0" lengthAdjust="spacingAndGlyphs">4'6&quot; WIDE</text>
<text class="lb" x="948.6" y="782.4" textLength="48.0" lengthAdjust="spacingAndGlyphs">WAY</text>
<text class="lb" x="762.7" y="852.3" textLength="73.0" lengthAdjust="spacingAndGlyphs">SHOTS</text>
<rect class="pl" x="762.7" y="858.3" width="73.0" height="23.4" rx="9"/>
<text class="num" x="799.2" y="876.0" text-anchor="middle">100-6</text>
<text class="dm" x="762.0" y="906.0" textLength="76.0" lengthAdjust="spacingAndGlyphs">9'7&quot;X5'8&quot;</text>
<text class="lb" x="1168.3" y="915.0" textLength="61.0" lengthAdjust="spacingAndGlyphs">EXAM</text>
<rect class="pl" x="1168.3" y="921.0" width="74.7" height="23.3" rx="9"/>
<text class="num" x="1205.7" y="938.6" text-anchor="middle">100-8</text>
<text class="dm" x="1168.3" y="969.3" textLength="88.0" lengthAdjust="spacingAndGlyphs">10'7&quot;X9'0&quot;</text>
<text class="lb" x="288.3" y="1048.3" textLength="76.0" lengthAdjust="spacingAndGlyphs">OFFICE</text>
<rect class="pl" x="288.3" y="1053.0" width="73.4" height="22.7" rx="9"/>
<text class="num" x="325.0" y="1070.3" text-anchor="middle">100-18</text>
<text class="dm" x="288.3" y="1101.7" textLength="92.0" lengthAdjust="spacingAndGlyphs">9'0&quot;X10'0&quot;</text>
<text class="lb" x="705.0" y="1055.0" textLength="80.7" lengthAdjust="spacingAndGlyphs">TRIAGE</text>
<rect class="pl" x="705.0" y="1060.0" width="73.3" height="23.3" rx="9"/>
<text class="num" x="741.6" y="1077.7" text-anchor="middle">100-5</text>
<text class="dm" x="705.0" y="1108.3" textLength="80.0" lengthAdjust="spacingAndGlyphs">9'7&quot;X7'0&quot;</text>
<text class="lb" x="1091.7" y="1161.7" textLength="28.0" lengthAdjust="spacingAndGlyphs">RR</text>
<rect class="pl" x="1091.7" y="1166.7" width="71.6" height="22.6" rx="9"/>
<text class="num" x="1127.5" y="1184.0" text-anchor="middle">100-2</text>
<text class="lb" x="647.3" y="1252.7" textLength="54.5" lengthAdjust="spacingAndGlyphs">HALL</text>
<rect class="pl" x="647.3" y="1277.7" width="72.7" height="23.3" rx="9"/>
<text class="num" x="683.6" y="1295.3" text-anchor="middle">100-3</text>
<text class="dm" x="641.0" y="1326.7" textLength="87.3" lengthAdjust="spacingAndGlyphs">4'6&quot; WIDE</text>
<text class="lb" x="650.0" y="1272.3" textLength="47.0" lengthAdjust="spacingAndGlyphs">WAY</text>
<text class="lb" x="543.3" y="1446.7" textLength="93.5" lengthAdjust="spacingAndGlyphs">RECEPT/</text>
<text class="lb" x="543.3" y="1466.7" textLength="106.0" lengthAdjust="spacingAndGlyphs">BUSINESS</text>
<rect class="pl" x="543.3" y="1472.3" width="72.7" height="22.7" rx="9"/>
<text class="num" x="579.6" y="1489.7" text-anchor="middle">100-4</text>
<text class="dm" x="545.0" y="1518.3" textLength="85.0" lengthAdjust="spacingAndGlyphs">15'7&quot;X8'6&quot;</text>
<text class="lb" x="226.7" y="1483.3" textLength="72.5" lengthAdjust="spacingAndGlyphs">CHECK</text>
<text class="lb" x="226.7" y="1503.3" textLength="41.5" lengthAdjust="spacingAndGlyphs">OUT</text>
<rect class="pl" x="226.7" y="1508.3" width="73.3" height="23.4" rx="9"/>
<text class="num" x="263.4" y="1526.0" text-anchor="middle">100-19</text>
<text class="lb" x="1061.7" y="1469.3" textLength="91.5" lengthAdjust="spacingAndGlyphs">WAITING</text>
<rect class="pl" x="1060.0" y="1475.0" width="72.7" height="23.3" rx="9"/>
<text class="num" x="1096.3" y="1492.7" text-anchor="middle">100-1</text>
<text class="dm" x="1060.0" y="1522.7" textLength="83.0" lengthAdjust="spacingAndGlyphs">17'3&quot;X12'4&quot;</text>
<rect class="ex" x="83.3" y="473.3" width="46.0" height="800.7"/>
<g transform="translate(118.3,1268) rotate(-90)">
<text class="exh" x="3.0" y="0.0" textLength="137.0" lengthAdjust="spacingAndGlyphs">EXHIBIT</text>
<text class="exh" x="156.3" y="0.0" textLength="98.7" lengthAdjust="spacingAndGlyphs">ONLY</text>
<text class="exh" x="289.0" y="0.0" textLength="11.0" lengthAdjust="spacingAndGlyphs">-</text>
<text class="exh" x="322.5" y="0.0" textLength="70.5" lengthAdjust="spacingAndGlyphs">NOT</text>
<text class="exh" x="409.7" y="0.0" textLength="54.0" lengthAdjust="spacingAndGlyphs">FOR</text>
<text class="exh" x="483.0" y="0.0" textLength="303.3" lengthAdjust="spacingAndGlyphs">CONSTRUCTION</text>
</g>
<circle cx="252.6" cy="1943.5" r="43.5" fill="none" stroke="#111" stroke-width="2.4"/>
<path class="bf" d="M253.0 1905.0L253.0 1943.0L291.0 1943.0Z"/>
<path class="hg" d="M253.0 1946.0L289.0 1946.0"/>
<path class="hg" d="M253.0 1950.6L284.4 1950.6"/>
<path class="hg" d="M253.0 1955.2L279.8 1955.2"/>
<path class="hg" d="M253.0 1959.8L275.2 1959.8"/>
<path class="hg" d="M253.0 1964.4L270.6 1964.4"/>
<path class="hg" d="M253.0 1969.0L266.0 1969.0"/>
<path class="hg" d="M253.0 1973.6L261.4 1973.6"/>
<path class="hg" d="M253.0 1978.2L256.8 1978.2"/>
<text class="nn" transform="translate(252.5,1950) rotate(-90)" x="0" y="0">N</text>
<text class="ttl" x="309.0" y="1935.5" textLength="194.0" lengthAdjust="spacingAndGlyphs">FLOOR</text>
<text class="ttl" x="537.5" y="1935.5" textLength="155.0" lengthAdjust="spacingAndGlyphs">PLAN</text>
<path class="ul" d="M296.0 1943.5L900.0 1943.5"/>
<text class="nts" x="860.0" y="1961.5" textLength="37.0" lengthAdjust="spacingAndGlyphs">N.T.S.</text>
</svg>
</body></html>
